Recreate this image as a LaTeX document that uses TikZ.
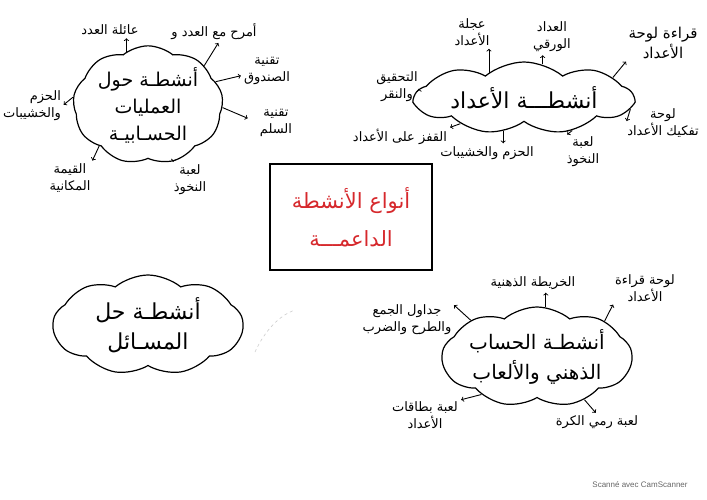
\documentclass[tikz,border=0pt]{standalone}
\usepackage{fontspec}
\usepackage{tikz}
\usetikzlibrary{shapes.symbols}
\newfontfamily\arabicfont[Script=Arabic]{DejaVu Sans}
\newfontfamily\footfont{Liberation Sans}
\TeXXeTstate=1
\definecolor{inkred}{RGB}{214,40,44}
\newcommand{\artxt}[1]{{\arabicfont\beginR #1\endR}}

\begin{document}
\begin{tikzpicture}[x=1pt,y=-1pt,
    blob/.style={cloud, cloud puffs=9, cloud puff arc=80, cloud ignores aspect, draw, line width=1.2pt, inner sep=0pt, align=center, font=\fontsize{19}{27}\selectfont},
    lbl/.style={font=\fontsize{13}{17}\selectfont, align=center, inner sep=1pt},
    arr/.style={->, line width=0.9pt, shorten >=2pt}]
    \useasboundingbox (0,0) rectangle (707,500);
    \node[blob, minimum width=150, minimum height=104] (ops) at (148,105) {\artxt{أنشطـة حول}\\\artxt{العمليات}\\\artxt{الحسـابيـة}};
    \node[lbl] (fam) at (110,30) {\artxt{عائلة العدد}};
    \node[lbl] (play) at (214,32) {\artxt{أمرح مع العدد و}};
    \node[lbl] (chest) at (267,71) {\artxt{تقنية}\\\artxt{الصندوق}};
    \node[lbl] (ladder) at (276,123) {\artxt{تقنية}\\\artxt{السلم}};
    \node[lbl] (model) at (190,180) {\artxt{لعبة}\\\artxt{النخوذ}};
    \node[lbl] (place) at (70,178) {\artxt{القيمة}\\\artxt{المكانية}};
    \node[lbl, align=right] (bund) at (32,106) {\artxt{الحزم}\\\artxt{والخشيبات}};
    \draw[arr] (ops.112) -- (ops.112 |- fam.south);
    \draw[arr] (ops.35) -- (play.-60);
    \draw[arr] (ops.19) -- (chest.190);
    \draw[arr, shorten >=12pt] (ops.-2) -- (ladder.west);
    \draw[arr] (ops.-66) -- (model.north west);
    \draw[arr] (ops.-140) -- (place.north east);
    \draw[arr] (ops.174) -- (bund.east);
    \node[blob, minimum width=218, minimum height=72, font=\fontsize{22}{26}\selectfont] (num) at (524,98) {\artxt{أنشطـــة الأعداد}};
    \node[lbl] (wheel) at (472,32) {\artxt{عجلة}\\\artxt{الأعداد}};
    \node[lbl] (abacus) at (552,37) {\artxt{العداد}\\\artxt{الورقي}};
    \node[lbl, font=\fontsize{15}{20}\selectfont] (read) at (663,43) {\artxt{قراءة لوحة}\\\artxt{الأعداد}};
    \node[lbl] (split) at (663,123) {\artxt{لوحة}\\\artxt{تفكيك الأعداد}};
    \node[lbl] (model2) at (583,152) {\artxt{لعبة}\\\artxt{النخوذ}};
    \node[lbl] (bund2) at (487,153) {\artxt{الحزم والخشيبات}};
    \node[lbl] (jump) at (400,137) {\artxt{القفز على الأعداد}};
    \node[lbl] (check) at (397,87) {\artxt{التحقيق}\\\artxt{والنقر}};
    \draw[arr] (num.144) -- (num.144 |- wheel.south);
    \draw[arr] (num.61) -- (num.61 |- abacus.south);
    \draw[arr] (num.13) -- (read.south west);
    \draw[arr] (num.-6) -- (split.west);
    \draw[arr] (num.-34) -- (model2.north west);
    \draw[arr] (num.-122) -- (num.-122 |- bund2.north);
    \draw[arr] (num.-158) -- (jump.north east);
    \draw[arr] (num.175) -- (check.east);
    \node[draw, line width=1.2pt, minimum width=162, minimum height=106, text=inkred, align=center, font=\fontsize{21}{24}\selectfont] (types) at (351,217) {\artxt{أنواع الأنشطة}\\[14pt]\artxt{الداعمـــة}};
    \node[blob, minimum width=190, minimum height=100, font=\fontsize{22}{30}\selectfont] (probs) at (148,325) {\artxt{أنشطـة حل}\\\artxt{المسـائل}};
    \draw[black!20, dashed, line width=0.6pt] (255,352) .. controls (265,330) and (280,315) .. (295,310);
    \node[blob, minimum width=180, minimum height=100, font=\fontsize{20}{30}\selectfont] (mind) at (537,357) {\artxt{أنشطـة الحساب}\\\artxt{الذهني والألعاب}};
    \node[lbl] (map) at (533,283) {\artxt{الخريطة الذهنية}};
    \node[lbl] (board) at (645,288) {\artxt{لوحة قراءة}\\\artxt{الأعداد}};
    \node[lbl] (tables) at (407,320) {\artxt{جداول الجمع}\\\artxt{والطرح والضرب}};
    \node[lbl] (cards) at (425,415) {\artxt{لعبة بطاقات}\\\artxt{الأعداد}};
    \node[lbl] (ball) at (597,422) {\artxt{لعبة رمي الكرة}};
    \draw[arr] (mind.80) -- (mind.80 |- map.south);
    \draw[arr] (mind.28) -- (board.south west);
    \draw[arr] (mind.151) -- (tables.north east);
    \draw[arr] (mind.-146) -- (cards.north east);
    \draw[arr] (mind.-42) -- (ball.north);
    \node[font=\footfont\fontsize{8}{10}\selectfont, text=black!60] (scan) at (640,485) {Scanné avec CamScanner};
\end{tikzpicture}
\end{document}
